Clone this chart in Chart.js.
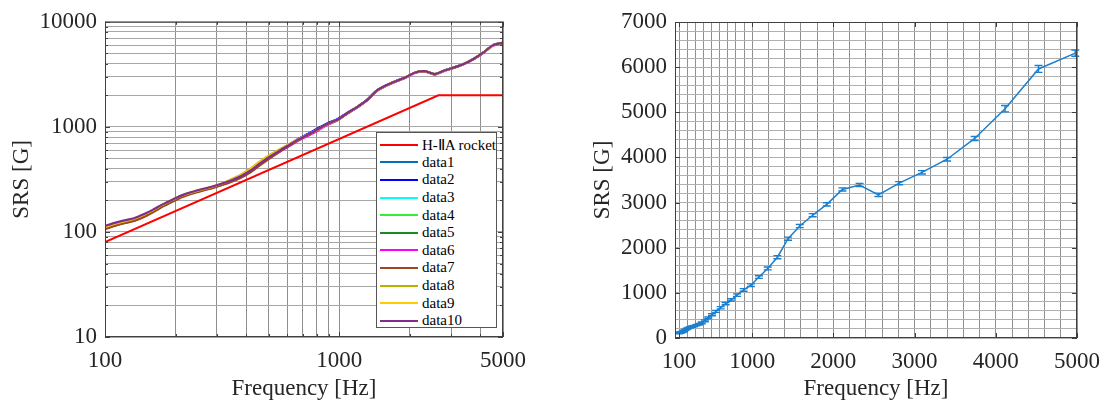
<!DOCTYPE html>
<html>
<head>
<meta charset="utf-8">
<script src="https://cdn.jsdelivr.net/npm/chart.js@4.4.1/dist/chart.umd.min.js"></script>
<style>
    body { margin: 0; background: #fff; width: 1110px; height: 405px; overflow: hidden; position: relative; font-family: "Liberation Serif", "Times New Roman", serif; }
    .wrap { position: absolute; top: 0; width: 555px; height: 405px; }
    #leftWrap { left: 0; }
    #rightWrap { left: 555px; }
    #legend { position: absolute; left: 376px; top: 132px; width: 121px; height: 196px; box-sizing: border-box; border: 1px solid #555; background: #fff; padding-top: 3px; font-size: 15px; color: #000; }
    .row { height: 17.6px; display: flex; align-items: center; white-space: nowrap; }
    .row i { display: inline-block; width: 38px; height: 2px; margin: 0 4px 0 3px; }
</style>
</head>
<body>
<div class="wrap" id="leftWrap"><canvas id="leftChart" width="555" height="405"></canvas></div>
<div class="wrap" id="rightWrap"><canvas id="rightChart" width="555" height="405"></canvas></div>
<div id="legend"></div>
<script>
// frequencies [Hz]
const freq = [100, 110, 121, 133, 146, 161, 177, 195, 214, 236, 259, 285, 314, 345, 380, 418, 459, 505, 556, 612, 673,
    740, 814, 895, 985, 1083, 1192, 1311, 1442, 1586, 1745, 1919, 2111, 2323, 2555, 2810, 3091, 3400, 3740, 4114, 4526, 4979];

// H-IIA requirement line
const rocketFreq = [100, 2650, 5000];
const rocketSrs = [80, 2000, 2000];

// measured SRS, 10 runs
const data1 = [109, 117, 124, 130, 142, 159, 179, 199, 219, 236, 250, 264, 282, 304, 334, 378, 442, 512, 588, 668, 758, 845, 952, 1068, 1172, 1352, 1542, 1792, 2200, 2482, 2722, 2962, 3292, 3392, 3172, 3432, 3672, 3962, 4422, 5085, 5965, 6315];
const data2 = [110, 118, 125, 131, 143, 160, 180, 200, 220, 237, 251, 265, 283, 305, 336, 382, 448, 520, 598, 682, 775, 865, 975, 1090, 1190, 1365, 1550, 1795, 2205, 2485, 2725, 2965, 3295, 3395, 3175, 3435, 3675, 3965, 4425, 5090, 5970, 6320];
const data3 = [110, 118, 125, 132, 144, 161, 181, 201, 221, 238, 252, 266, 284, 306, 336, 381, 446, 516, 591, 671, 761, 846, 951, 1066, 1171, 1351, 1541, 1791, 2201, 2481, 2721, 2961, 3291, 3391, 3171, 3431, 3671, 3961, 4421, 5081, 5961, 6311];
const data4 = [109, 117, 124, 131, 143, 160, 180, 200, 220, 237, 251, 265, 283, 305, 335, 380, 445, 515, 590, 670, 760, 845, 950, 1065, 1170, 1350, 1540, 1790, 2200, 2480, 2720, 2960, 3290, 3390, 3170, 3430, 3670, 3960, 4420, 5080, 5960, 6310];
const data5 = [107, 115, 122, 128, 140, 157, 177, 197, 217, 234, 248, 262, 280, 302, 331, 375, 440, 510, 586, 667, 757, 843, 948, 1063, 1168, 1348, 1538, 1788, 2198, 2478, 2718, 2958, 3288, 3388, 3168, 3428, 3668, 3958, 4418, 5078, 5958, 6308];
const data6 = [109, 117, 124, 130, 142, 159, 179, 199, 219, 236, 250, 264, 282, 303, 333, 377, 441, 508, 580, 658, 745, 828, 930, 1045, 1155, 1335, 1525, 1775, 2180, 2460, 2700, 2940, 3265, 3365, 3145, 3405, 3645, 3935, 4390, 5040, 5920, 6260];
const data7 = [106, 114, 121, 127, 138, 155, 175, 195, 215, 232, 246, 260, 278, 299, 328, 370, 432, 503, 580, 663, 755, 842, 948, 1062, 1167, 1347, 1537, 1787, 2197, 2477, 2717, 2957, 3287, 3387, 3167, 3427, 3667, 3957, 4417, 5077, 5957, 6307];
const data8 = [111, 119, 126, 133, 145, 162, 182, 202, 222, 239, 253, 268, 288, 315, 350, 400, 470, 540, 610, 685, 770, 850, 952, 1066, 1171, 1351, 1541, 1791, 2201, 2481, 2721, 2961, 3291, 3391, 3171, 3431, 3671, 3961, 4421, 5081, 5961, 6311];
const data9 = [112, 120, 127, 134, 146, 163, 183, 203, 223, 240, 254, 268, 287, 312, 347, 396, 465, 535, 605, 680, 766, 848, 951, 1066, 1171, 1351, 1541, 1791, 2201, 2481, 2721, 2961, 3291, 3391, 3171, 3431, 3671, 3961, 4421, 5081, 5961, 6311];
const data10 = [114, 122, 129, 135, 147, 164, 184, 204, 224, 241, 255, 269, 287, 309, 339, 384, 449, 519, 594, 674, 764, 849, 954, 1069, 1174, 1354, 1544, 1794, 2204, 2484, 2724, 2964, 3294, 3394, 3174, 3434, 3674, 3964, 4424, 5084, 5964, 6314];

// mean and error bar half-length for the right plot
const srsMean = [110, 118, 125, 131, 143, 160, 180, 200, 220, 237, 251, 265, 283, 305, 335, 380, 445, 515, 590, 670, 760, 845, 950, 1065, 1170, 1350, 1540, 1790, 2200, 2480, 2720, 2960, 3290, 3390, 3170, 3430, 3670, 3960, 4420, 5080, 5960, 6310];
const srsErr = [15, 15, 15, 15, 15, 15, 15, 15, 15, 15, 15, 15, 15, 18, 18, 20, 20, 22, 22, 25, 25, 25, 28, 28, 30, 30, 32, 35, 35, 35, 35, 35, 35, 35, 35, 35, 38, 40, 45, 70, 75, 70];

// ticks / grid
const leftXGrid = [100, 200, 300, 400, 500, 600, 700, 800, 900, 1000, 2000, 3000, 4000, 5000];
const leftXLabels = [100, 1000, 5000];
const leftYGrid = [10, 20, 30, 40, 50, 60, 70, 80, 90, 100, 200, 300, 400, 500, 600, 700, 800, 900,
    1000, 2000, 3000, 4000, 5000, 6000, 7000, 8000, 9000, 10000];
const leftYLabels = [10, 100, 1000, 10000];
const rightXGrid = [100, 200, 300, 400, 500, 600, 700, 800, 900, 1000, 1200, 1400, 1600, 1800, 2000, 2200, 2400, 2600, 2800,
    3000, 3200, 3400, 3600, 3800, 4000, 4200, 4400, 4600, 4800, 5000];
const rightXLabels = [100, 1000, 2000, 3000, 4000, 5000];
const rightYGrid = [0, 200, 400, 600, 800, 1000, 1200, 1400, 1600, 1800, 2000, 2200, 2400, 2600, 2800, 3000, 3200, 3400, 3600, 3800,
    4000, 4200, 4400, 4600, 4800, 5000, 5200, 5400, 5600, 5800, 6000, 6200, 6400, 6600, 6800, 7000];
const rightYLabels = [0, 1000, 2000, 3000, 4000, 5000, 6000, 7000];

const seriesNames = ["data1", "data2", "data3", "data4", "data5", "data6", "data7", "data8", "data9", "data10"];
const seriesData = [data1, data2, data3, data4, data5, data6, data7, data8, data9, data10];
const seriesColors = ["#0072bd", "#0000ff", "#00ffff", "#33ee33", "#1a8a1a", "#ff00ff", "#a0461e", "#b4b400", "#ffcc00", "#7e2f8e"];

const FONT = "'Liberation Serif', 'Times New Roman', serif";
const TXT = "#262626";

function setTicks(grid) {
    return function (axis) { axis.ticks = grid.map(v => ({ value: v })); };
}
function labelOnly(labels) {
    return function (v) { return labels.includes(v) ? String(v) : ""; };
}

// box + inward tick marks like matlab
function boxPlugin(xMajor, yMajor, xMinor, yMinor) {
    return {
        id: "box",
        afterDatasetsDraw(chart) {
            const { ctx, chartArea: a, scales } = chart;
            ctx.save();
            ctx.strokeStyle = "#404040";
            ctx.lineWidth = 1;
            ctx.strokeRect(a.left + 0.5, a.top + 0.5, a.right - a.left - 1, a.bottom - a.top - 1);
            ctx.beginPath();
            const xt = (list, len) => list.forEach(v => {
                const x = Math.round(scales.x.getPixelForValue(v)) + 0.5;
                ctx.moveTo(x, a.bottom); ctx.lineTo(x, a.bottom - len);
                ctx.moveTo(x, a.top); ctx.lineTo(x, a.top + len);
            });
            const yt = (list, len) => list.forEach(v => {
                const y = Math.round(scales.y.getPixelForValue(v)) + 0.5;
                ctx.moveTo(a.left, y); ctx.lineTo(a.left + len, y);
                ctx.moveTo(a.right, y); ctx.lineTo(a.right - len, y);
            });
            xt(xMajor, 5); yt(yMajor, 5);
            xt(xMinor, 3); yt(yMinor, 3);
            ctx.stroke();
            ctx.restore();
        }
    };
}

const errorBars = {
    id: "errorBars",
    afterDatasetsDraw(chart) {
        const { ctx, scales } = chart;
        ctx.save();
        ctx.strokeStyle = "#1a7fcf";
        ctx.lineWidth = 1.4;
        ctx.beginPath();
        freq.forEach((f, i) => {
            const x = scales.x.getPixelForValue(f);
            const y1 = scales.y.getPixelForValue(srsMean[i] + srsErr[i]);
            const y2 = scales.y.getPixelForValue(srsMean[i] - srsErr[i]);
            ctx.moveTo(x, y1); ctx.lineTo(x, y2);
            ctx.moveTo(x - 4, y1); ctx.lineTo(x + 4, y1);
            ctx.moveTo(x - 4, y2); ctx.lineTo(x + 4, y2);
        });
        ctx.stroke();
        ctx.restore();
    }
};

Chart.defaults.font.family = FONT;
Chart.defaults.color = TXT;

// left: all runs on log-log
const leftSets = [{
    label: "H-ⅡA rocket",
    data: rocketFreq.map((f, i) => ({ x: f, y: rocketSrs[i] })),
    borderColor: "#ff0000", borderWidth: 2, pointRadius: 0, order: 11
}];
seriesData.forEach((d, k) => {
    leftSets.push({
        label: seriesNames[k],
        data: freq.map((f, i) => ({ x: f, y: d[i] })),
        borderColor: seriesColors[k], borderWidth: 2.2, pointRadius: 0,
        tension: 0.25, order: 10 - k
    });
});

new Chart(document.getElementById("leftChart"), {
    type: "line",
    data: { datasets: leftSets },
    options: {
        responsive: false, animation: false, devicePixelRatio: 1,
        layout: { padding: { left: 0, right: 52, top: 19, bottom: 0 } },
        plugins: { legend: { display: false }, tooltip: { enabled: false } },
        scales: {
            x: {
                type: "logarithmic", min: 100, max: 5000,
                afterBuildTicks: setTicks(leftXGrid),
                afterFit(s) { s.height = 68; },
                ticks: { callback: labelOnly(leftXLabels), autoSkip: false, maxRotation: 0, padding: 10, font: { size: 23 }, color: TXT },
                grid: { color: "#8f8f8f", drawTicks: false },
                border: { display: false },
                title: { display: true, text: "Frequency [Hz]", font: { size: 23 }, color: TXT, padding: { top: 0, bottom: 2 } }
            },
            y: {
                type: "logarithmic", min: 10, max: 10000,
                afterBuildTicks: setTicks(leftYGrid),
                afterFit(s) { s.width = 105; },
                ticks: { callback: labelOnly(leftYLabels), autoSkip: false, padding: 8, font: { size: 23 }, color: TXT },
                grid: { color: "#a6a6a6", drawTicks: false },
                border: { display: false },
                title: { display: true, text: "SRS [G]", font: { size: 23 }, color: TXT, padding: { top: 8, bottom: 0 } }
            }
        }
    },
    plugins: [boxPlugin(leftXLabels, leftYLabels, leftXGrid, leftYGrid)]
});

// right: mean with error bars, linear axes
new Chart(document.getElementById("rightChart"), {
    type: "line",
    data: {
        datasets: [{
            label: "mean",
            data: freq.map((f, i) => ({ x: f, y: srsMean[i] })),
            borderColor: "#1a7fcf", borderWidth: 1.5, pointRadius: 0, tension: 0
        }]
    },
    options: {
        responsive: false, animation: false, devicePixelRatio: 1,
        layout: { padding: { left: 0, right: 27, top: 22, bottom: 0 } },
        plugins: { legend: { display: false }, tooltip: { enabled: false } },
        scales: {
            x: {
                type: "linear", min: 50, max: 5000,
                afterBuildTicks: setTicks(rightXGrid),
                afterFit(s) { s.height = 67; },
                ticks: { callback: labelOnly(rightXLabels), autoSkip: false, maxRotation: 0, padding: 10, font: { size: 23 }, color: TXT },
                grid: { color: "#8f8f8f", drawTicks: false },
                border: { display: false },
                title: { display: true, text: "Frequency [Hz]", font: { size: 23 }, color: TXT, padding: { top: 0, bottom: 2 } }
            },
            y: {
                type: "linear", min: 0, max: 7000,
                afterBuildTicks: setTicks(rightYGrid),
                afterFit(s) { s.width = 120; },
                ticks: { callback: labelOnly(rightYLabels), autoSkip: false, padding: 8, font: { size: 23 }, color: TXT },
                grid: { color: "#b0b0b0", drawTicks: false },
                border: { display: false },
                title: { display: true, text: "SRS [G]", font: { size: 23 }, color: TXT, padding: { top: 34, bottom: 0 } }
            }
        }
    },
    plugins: [errorBars, boxPlugin(rightXLabels, rightYLabels, [], [])]
});

// legend inside left axes
const legendEl = document.getElementById("legend");
const legendItems = [["H-ⅡA rocket", "#ff0000"]].concat(seriesNames.map((n, k) => [n, seriesColors[k]]));
legendItems.forEach(([name, col]) => {
    const row = document.createElement("div");
    row.className = "row";
    row.innerHTML = `<i style="background:${col}"></i><span>${name}</span>`;
    legendEl.appendChild(row);
});
</script>
</body>
</html>
